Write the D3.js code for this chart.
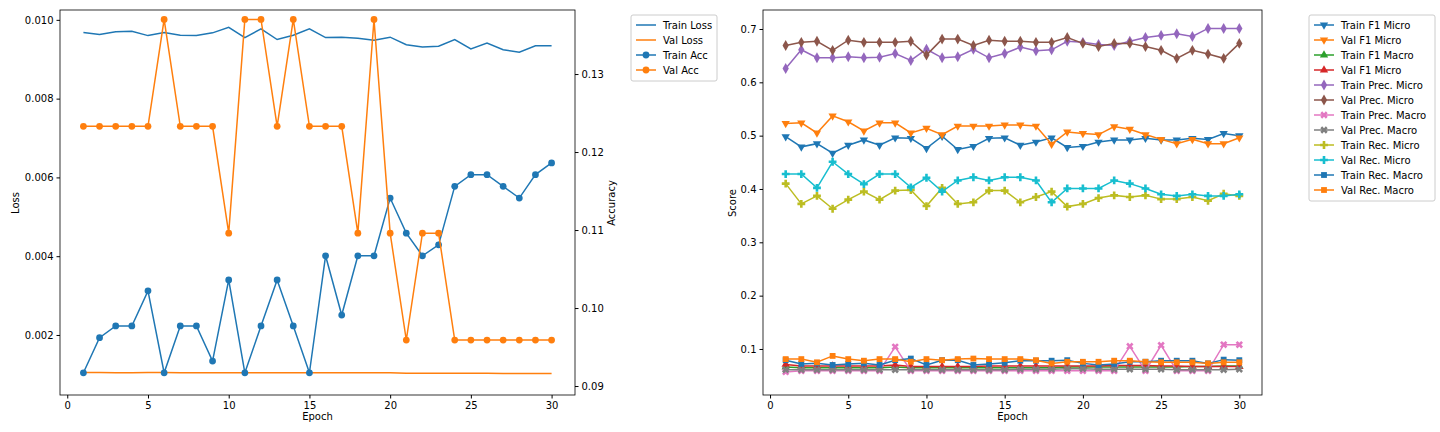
<!DOCTYPE html>
<html><head><meta charset="utf-8">
<script src="https://cdn.jsdelivr.net/npm/d3@7"></script>
<style>body{margin:0;background:#fff}text{font-family:"DejaVu Sans",sans-serif;font-size:10px}</style>
</head><body>
<script>
var epochs = d3.range(1, 31);

var trainLoss = [0.00968,0.00963,0.00970,0.00971,0.00960,0.00968,0.00961,0.00960,0.00967,0.00981,0.00955,0.00977,0.00950,0.00961,0.00977,0.00955,0.00956,0.00953,0.00948,0.00956,0.00937,0.00931,0.00933,0.00950,0.00926,0.00941,0.00924,0.00918,0.00934,0.00934];
var valLoss = [0.00105,0.00105,0.00104,0.00104,0.00105,0.00105,0.00104,0.00104,0.00104,0.00104,0.00104,0.00104,0.00104,0.00104,0.00104,0.00104,0.00104,0.00104,0.00104,0.00104,0.00103,0.00103,0.00103,0.00103,0.00103,0.00103,0.00102,0.00102,0.00102,0.00102];
var trainAcc = [0.0917,0.0962,0.0977,0.0977,0.1022,0.0917,0.0977,0.0977,0.0932,0.1036,0.0917,0.0977,0.1036,0.0977,0.0917,0.1067,0.0991,0.1067,0.1067,0.1141,0.1096,0.1067,0.1081,0.1156,0.1171,0.1171,0.1156,0.1141,0.1171,0.1186];
var valAcc = [0.1233,0.1233,0.1233,0.1233,0.1233,0.137,0.1233,0.1233,0.1233,0.1096,0.137,0.137,0.1233,0.137,0.1233,0.1233,0.1233,0.1096,0.137,0.1096,0.0959,0.1096,0.1096,0.0959,0.0959,0.0959,0.0959,0.0959,0.0959,0.0959];

var trainF1Micro = [0.498,0.479,0.485,0.467,0.482,0.492,0.482,0.496,0.495,0.476,0.499,0.474,0.480,0.495,0.496,0.482,0.488,0.496,0.478,0.480,0.488,0.492,0.492,0.495,0.492,0.492,0.495,0.493,0.504,0.500];
var valF1Micro = [0.523,0.524,0.505,0.537,0.526,0.509,0.524,0.524,0.505,0.514,0.502,0.518,0.518,0.518,0.520,0.520,0.518,0.484,0.507,0.504,0.502,0.517,0.512,0.502,0.493,0.485,0.493,0.485,0.485,0.496];
var trainF1Macro = [0.066,0.065,0.065,0.065,0.065,0.065,0.065,0.066,0.065,0.065,0.065,0.065,0.065,0.065,0.065,0.065,0.065,0.065,0.066,0.066,0.066,0.066,0.066,0.066,0.066,0.066,0.067,0.067,0.068,0.068];
var valF1Micro2 = [0.071,0.068,0.068,0.068,0.068,0.068,0.068,0.070,0.067,0.067,0.067,0.067,0.067,0.068,0.068,0.068,0.068,0.068,0.068,0.068,0.068,0.069,0.069,0.069,0.068,0.068,0.067,0.067,0.067,0.067];
var trainPrecMicro = [0.626,0.661,0.646,0.646,0.648,0.646,0.647,0.654,0.641,0.662,0.646,0.648,0.662,0.646,0.654,0.666,0.659,0.661,0.677,0.675,0.671,0.669,0.677,0.684,0.688,0.691,0.686,0.701,0.701,0.701];
var valPrecMicro = [0.669,0.675,0.677,0.660,0.679,0.675,0.675,0.675,0.677,0.651,0.681,0.681,0.669,0.679,0.677,0.677,0.675,0.675,0.684,0.673,0.667,0.673,0.673,0.667,0.660,0.645,0.660,0.653,0.645,0.673];
var trainPrecMacro = [0.057,0.059,0.059,0.059,0.059,0.059,0.059,0.104,0.059,0.059,0.059,0.059,0.059,0.059,0.059,0.059,0.059,0.059,0.059,0.059,0.059,0.059,0.105,0.059,0.107,0.059,0.059,0.059,0.108,0.108];
var valPrecMacro = [0.061,0.061,0.061,0.061,0.061,0.061,0.061,0.061,0.061,0.061,0.061,0.061,0.061,0.061,0.061,0.062,0.062,0.062,0.063,0.063,0.062,0.062,0.062,0.062,0.062,0.061,0.061,0.061,0.061,0.062];
var trainRecMicro = [0.410,0.372,0.387,0.363,0.380,0.395,0.380,0.397,0.398,0.368,0.402,0.372,0.375,0.397,0.397,0.375,0.385,0.395,0.367,0.372,0.383,0.388,0.385,0.388,0.381,0.381,0.385,0.378,0.391,0.387];
var valRecMicro = [0.428,0.428,0.402,0.451,0.428,0.409,0.428,0.428,0.403,0.421,0.395,0.416,0.422,0.416,0.422,0.422,0.416,0.375,0.401,0.401,0.401,0.416,0.410,0.401,0.390,0.387,0.390,0.387,0.387,0.390];
var trainRecMacro = [0.079,0.072,0.073,0.070,0.072,0.073,0.070,0.079,0.082,0.070,0.079,0.079,0.070,0.072,0.074,0.078,0.078,0.078,0.079,0.073,0.070,0.072,0.076,0.076,0.078,0.078,0.078,0.073,0.080,0.079];
var valRecMacro = [0.081,0.081,0.075,0.087,0.081,0.078,0.081,0.081,0.076,0.081,0.079,0.081,0.082,0.081,0.081,0.081,0.079,0.073,0.076,0.076,0.076,0.078,0.078,0.076,0.075,0.075,0.075,0.073,0.075,0.075];

var leftSeries = [
  {name:"Train Loss", values:trainLoss, color:"#1f77b4", axis:"loss"},
  {name:"Val Loss", values:valLoss, color:"#ff7f0e", axis:"loss"},
  {name:"Train Acc", values:trainAcc, color:"#1f77b4", axis:"acc", marker:"circle"},
  {name:"Val Acc", values:valAcc, color:"#ff7f0e", axis:"acc", marker:"circle"}
];
var rightSeries = [
  {name:"Train F1 Micro", values:trainF1Micro, color:"#1f77b4", marker:"tdown"},
  {name:"Val F1 Micro", values:valF1Micro, color:"#ff7f0e", marker:"tdown"},
  {name:"Train F1 Macro", values:trainF1Macro, color:"#2ca02c", marker:"tup"},
  {name:"Val F1 Micro", values:valF1Micro2, color:"#d62728", marker:"tup"},
  {name:"Train Prec. Micro", values:trainPrecMicro, color:"#9467bd", marker:"diamond"},
  {name:"Val Prec. Micro", values:valPrecMicro, color:"#8c564b", marker:"diamond"},
  {name:"Train Prec. Macro", values:trainPrecMacro, color:"#e377c2", marker:"x"},
  {name:"Val Prec. Macro", values:valPrecMacro, color:"#7f7f7f", marker:"x"},
  {name:"Train Rec. Micro", values:trainRecMicro, color:"#bcbd22", marker:"plus"},
  {name:"Val Rec. Micro", values:valRecMicro, color:"#17becf", marker:"plus"},
  {name:"Train Rec. Macro", values:trainRecMacro, color:"#1f77b4", marker:"square"},
  {name:"Val Rec. Macro", values:valRecMacro, color:"#ff7f0e", marker:"square"}
];

var svg = d3.select("body").append("svg").attr("width", 1440).attr("height", 432);

function symbolPath(m) {
  var s = {circle:[d3.symbolCircle,36], tdown:[d3.symbolTriangle,30], tup:[d3.symbolTriangle,30],
    diamond:[d3.symbolDiamond,34], x:[d3.symbolCross,34], plus:[d3.symbolCross,34], square:[d3.symbolSquare,34]}[m];
  return d3.symbol().type(s[0]).size(s[1])();
}
function rot(m) { return m == "tdown" ? 180 : (m == "x" ? 45 : 0); }

function drawMarkers(g, s, x, y) {
  if (!s.marker) return;
  g.selectAll(null).data(s.values).enter().append("path")
    .attr("d", symbolPath(s.marker))
    .attr("transform", function(d, i) { return "translate(" + x(epochs[i]) + "," + y(d) + ") rotate(" + rot(s.marker) + ")"; })
    .attr("fill", s.color);
}
function drawLine(g, s, x, y) {
  g.append("path").datum(s.values)
    .attr("d", d3.line().x(function(d, i) { return x(epochs[i]); }).y(function(d) { return y(d); }))
    .attr("fill", "none").attr("stroke", s.color).attr("stroke-width", 1.5);
  drawMarkers(g, s, x, y);
}
function styleAxis(a) {
  a.selectAll(".domain").remove();
  a.selectAll("line").attr("stroke", "#000");
  a.selectAll("text").attr("fill", "#000");
}
function frame(l, t, r, b) {
  svg.append("rect").attr("x", l).attr("y", t).attr("width", r - l).attr("height", b - t)
    .attr("fill", "none").attr("stroke", "#000").attr("stroke-width", 0.8);
}
function legend(x0, y0, w, series) {
  var g = svg.append("g");
  g.append("rect").attr("x", x0).attr("y", y0).attr("width", w).attr("height", series.length * 15 + 6)
    .attr("fill", "#fff").attr("stroke", "#ccc").attr("rx", 2);
  series.forEach(function(s, i) {
    var yy = y0 + 10 + i * 15;
    g.append("line").attr("x1", x0 + 5).attr("x2", x0 + 25).attr("y1", yy).attr("y2", yy)
      .attr("stroke", s.color).attr("stroke-width", 1.5);
    if (s.marker) g.append("path").attr("d", symbolPath(s.marker))
      .attr("transform", "translate(" + (x0 + 15) + "," + yy + ") rotate(" + rot(s.marker) + ")").attr("fill", s.color);
    g.append("text").attr("x", x0 + 32).attr("y", yy + 3.5).text(s.name);
  });
}

// left panel
var L = {l:60, t:10, r:575, b:395};
var x1 = d3.scaleLinear().domain([-0.45, 31.45]).range([L.l, L.r]);
var yLoss = d3.scaleLinear().domain([0.000476, 0.01025]).range([L.b, L.t]);
var yAcc = d3.scaleLinear().domain([0.08885, 0.13821]).range([L.b, L.t]);
var gl = svg.append("g");
leftSeries.forEach(function(s) { drawLine(gl, s, x1, s.axis == "loss" ? yLoss : yAcc); });
frame(L.l, L.t, L.r, L.b);
styleAxis(svg.append("g").attr("transform", "translate(0," + L.b + ")").call(d3.axisBottom(x1).tickValues([0,5,10,15,20,25,30]).tickSize(3.5).tickPadding(3)));
styleAxis(svg.append("g").attr("transform", "translate(" + L.l + ",0)").call(d3.axisLeft(yLoss).tickValues([0.002,0.004,0.006,0.008,0.010]).tickFormat(d3.format(".3f")).tickSize(3.5).tickPadding(3)));
styleAxis(svg.append("g").attr("transform", "translate(" + L.r + ",0)").call(d3.axisRight(yAcc).tickValues([0.09,0.10,0.11,0.12,0.13]).tickFormat(d3.format(".2f")).tickSize(3.5).tickPadding(3)));
svg.append("text").attr("x", (L.l + L.r) / 2).attr("y", 420).attr("text-anchor", "middle").text("Epoch");
svg.append("text").attr("transform", "translate(19,203) rotate(-90)").attr("text-anchor", "middle").text("Loss");
svg.append("text").attr("transform", "translate(615,203) rotate(-90)").attr("text-anchor", "middle").text("Accuracy");
legend(631, 15, 86, leftSeries);

// right panel
var R = {l:763, t:10, r:1262, b:395};
var x2 = d3.scaleLinear().domain([-0.45, 31.45]).range([R.l, R.r]);
var yS = d3.scaleLinear().domain([0.0137, 0.7356]).range([R.b, R.t]);
var gr = svg.append("g");
rightSeries.forEach(function(s) { drawLine(gr, s, x2, yS); });
frame(R.l, R.t, R.r, R.b);
styleAxis(svg.append("g").attr("transform", "translate(0," + R.b + ")").call(d3.axisBottom(x2).tickValues([0,5,10,15,20,25,30]).tickSize(3.5).tickPadding(3)));
styleAxis(svg.append("g").attr("transform", "translate(" + R.l + ",0)").call(d3.axisLeft(yS).tickValues([0.1,0.2,0.3,0.4,0.5,0.6,0.7]).tickFormat(d3.format(".1f")).tickSize(3.5).tickPadding(3)));
svg.append("text").attr("x", (R.l + R.r) / 2).attr("y", 420).attr("text-anchor", "middle").text("Epoch");
svg.append("text").attr("transform", "translate(736,203) rotate(-90)").attr("text-anchor", "middle").text("Score");
legend(1309, 15, 126, rightSeries);
</script>
</body></html>
